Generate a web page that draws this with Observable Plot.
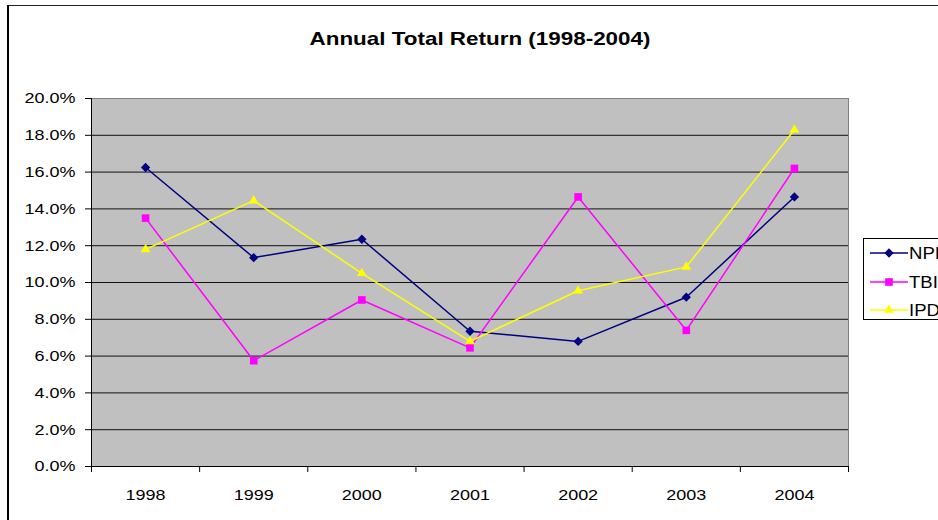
<!DOCTYPE html>
<html>
<head>
<meta charset="utf-8">
<script src="https://cdn.jsdelivr.net/npm/d3@7"></script>
<script src="https://cdn.jsdelivr.net/npm/@observablehq/plot@0.6"></script>
<style>
  html, body { margin: 0; padding: 0; background: #fff; }
  body { width: 938px; height: 520px; overflow: hidden; position: relative; font-family: "Liberation Sans", Arial, sans-serif; }
  #frame { position: absolute; left: 7px; top: 5px; width: 1100px; height: 700px; border-left: 2px solid #000; border-top: 1px solid #222; box-sizing: border-box; }
  #chart { position: absolute; left: 0; top: 0; }
  #title { position: absolute; left: 479.5px; top: 29px; font-size: 19px; line-height: 19px; font-weight: bold; white-space: nowrap; color: #000; transform: translateX(-50%) scaleX(1.18); }
  #legend { position: absolute; left: 863px; top: 238px; overflow: visible; }
</style>
</head>
<body>
<div id="frame"></div>
<div id="chart"></div>
<div id="title">Annual Total Return (1998-2004)</div>
<svg id="legend" width="120" height="82"></svg>
<script>
// ---- data ----
const years = [1998, 1999, 2000, 2001, 2002, 2003, 2004];
const npi = [16.25, 11.35, 12.35, 7.35, 6.8, 9.2, 14.65];
const tbi = [13.5, 5.75, 9.05, 6.45, 14.65, 7.4, 16.2];
const ipd = [11.8, 14.45, 10.5, 6.8, 9.55, 10.85, 18.3];
const seriesNames = ["NPI", "TBI", "IPD"];
const seriesColors = ["#000080", "#FF00FF", "#FFFF00"];
const yTicks = [0, 2, 4, 6, 8, 10, 12, 14, 16, 18, 20];

// ---- derived ----
const seriesValues = [npi, tbi, ipd];
const rows = seriesNames.map((name, s) => years.map((year, i) => ({series: name, year, value: seriesValues[s][i]})));
const boundaries = [years[0] - 0.5, ...years.map(y => y + 0.5)];

const diamond = {
  draw(ctx, size) {
    const h = Math.sqrt(size / 2);
    ctx.moveTo(0, -h); ctx.lineTo(h, 0); ctx.lineTo(0, h); ctx.lineTo(-h, 0); ctx.closePath();
  }
};
const symbols = [diamond, d3.symbolSquare, d3.symbolTriangle];
const radii = [3.7, 4.3, 3.6];

const seriesMarks = rows.flatMap((data, s) => [
  Plot.line(data, {x: "year", y: "value", stroke: seriesColors[s], strokeWidth: 1.5}),
  Plot.dot(data, {x: "year", y: "value", symbol: symbols[s], r: radii[s], fill: seriesColors[s], stroke: "none"})
]);

const chart = Plot.plot({
  width: 938,
  height: 520,
  marginLeft: 91,
  marginRight: 90,
  marginTop: 98,
  marginBottom: 54,
  style: {background: "transparent", fontFamily: "'Liberation Sans', Arial, sans-serif", fontSize: "15.5px", color: "#000", overflow: "visible"},
  x: {domain: [boundaries[0], boundaries[boundaries.length - 1]]},
  y: {domain: [yTicks[0], yTicks[yTicks.length - 1]]},
  marks: [
    Plot.frame({fill: "#c0c0c0", stroke: "#808080"}),
    Plot.gridY(yTicks.slice(1, -1), {stroke: "#111", strokeOpacity: 1}),
    Plot.axisY({ticks: yTicks, tickFormat: d => d.toFixed(1) + "%", tickSize: 6, tickPadding: 10, label: null, stroke: "#000"}),
    Plot.axisX({ticks: boundaries, tickFormat: () => "", tickSize: 6, label: null, stroke: "#000"}),
    Plot.axisX({ticks: years, tickFormat: d => String(d), tickSize: 0, tickPadding: 22, label: null}),
    Plot.ruleX([boundaries[0]], {stroke: "#000"}),
    Plot.ruleY([yTicks[0]], {stroke: "#000"}),
    ...seriesMarks
  ]
});

// horizontally stretch text around its own anchor (reference text is wide)
const SX = 1.16;
chart.querySelectorAll("text").forEach(t => {
  const x = +(t.getAttribute("x") || 0);
  const tr = t.getAttribute("transform") || "";
  t.setAttribute("transform", `${tr} translate(${x},0) scale(${SX},1) translate(${-x},0)`);
});
document.getElementById("chart").appendChild(chart);

// ---- legend ----
const leg = d3.select("#legend");
leg.append("rect").attr("x", 0.5).attr("y", 0.5).attr("width", 130).attr("height", 81).attr("fill", "#fff").attr("stroke", "#000");
const rowY = [15, 44, 72];
seriesNames.forEach((name, s) => {
  const g = leg.append("g").attr("transform", `translate(0,${rowY[s]})`);
  g.append("line").attr("x1", 7).attr("x2", 45).attr("y1", 0).attr("y2", 0).attr("stroke", seriesColors[s]).attr("stroke-width", 1.5);
  g.append("path").attr("transform", "translate(26,0)")
    .attr("d", d3.symbol().type(symbols[s]).size(radii[s] * radii[s] * Math.PI)())
    .attr("fill", seriesColors[s]);
  g.append("text").attr("x", 0).attr("y", 0).attr("dy", "0.36em")
    .attr("transform", `translate(46,0) scale(${SX},1)`)
    .attr("font-size", 16).attr("fill", "#000").text(name);
});
</script>
</body>
</html>
